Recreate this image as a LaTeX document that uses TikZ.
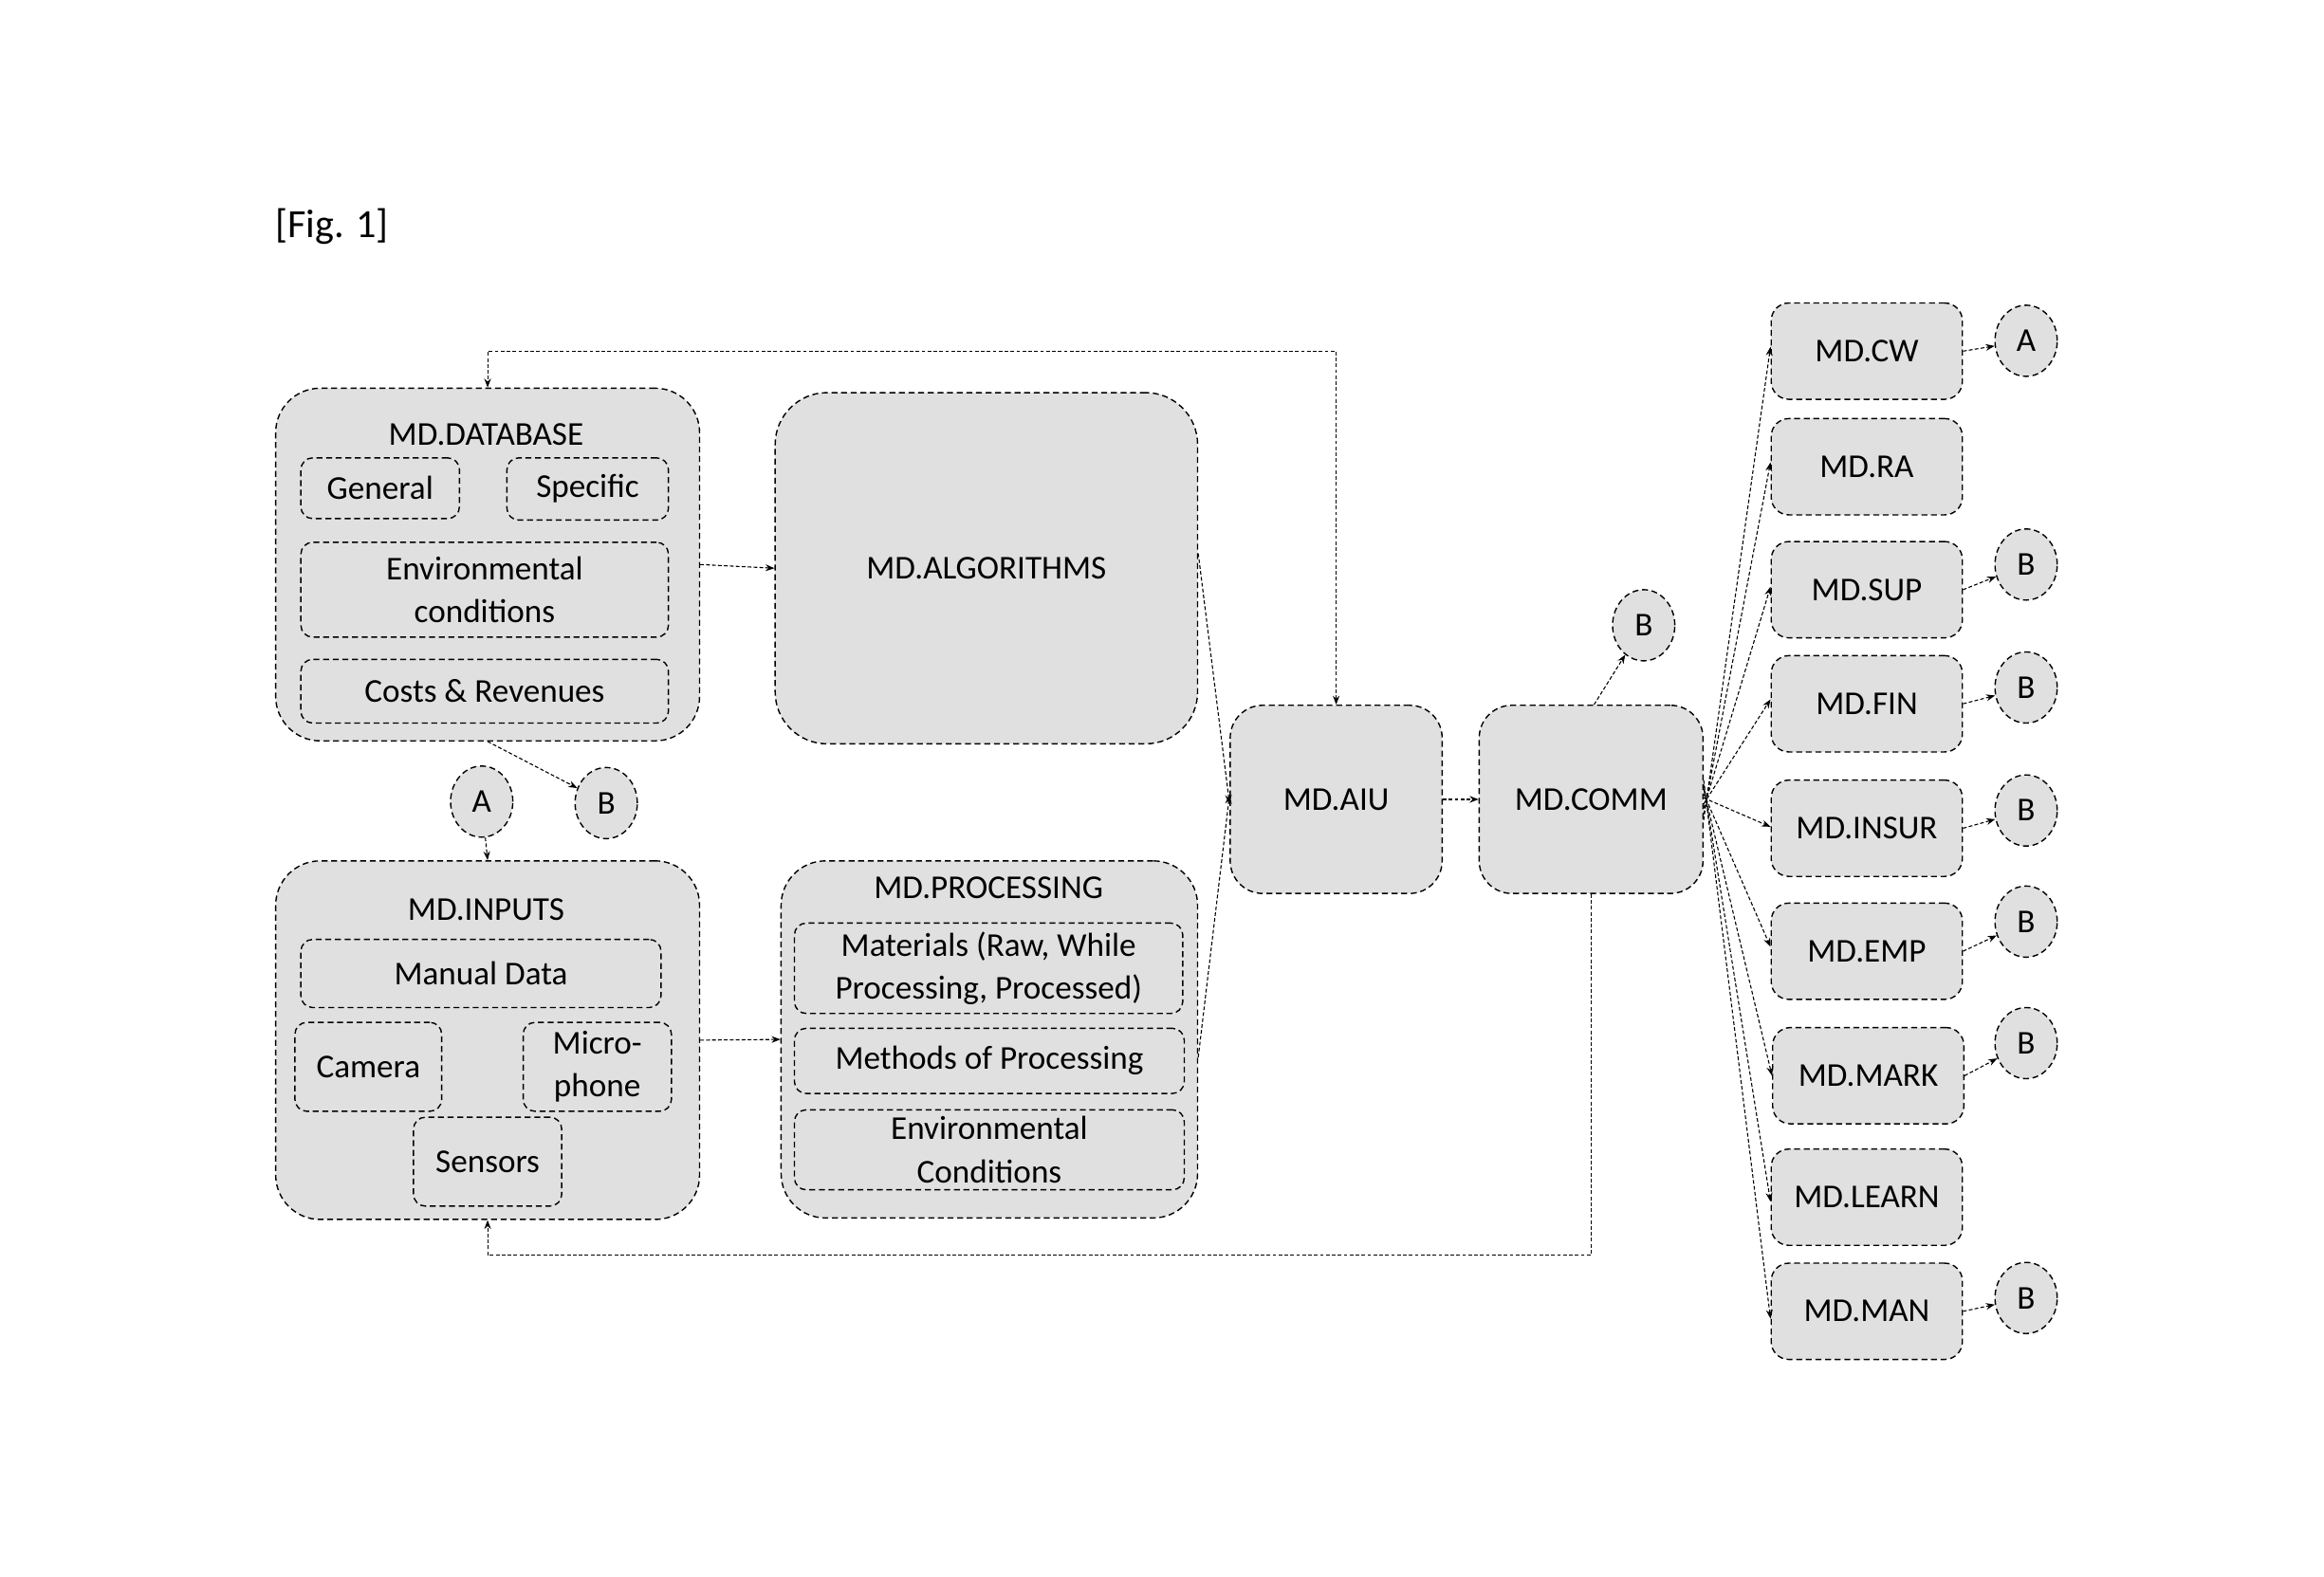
\documentclass[tikz,border=0pt]{standalone}
\usepackage{fontspec}
\setmainfont{Carlito}
\usetikzlibrary{arrows.meta,shapes.geometric}
\newcommand\mainfs{\fontsize{22.5}{29}\selectfont}
\tikzset{
  boxbase/.style={draw, dash pattern=on 4pt off 2.5pt, line width=0.9pt, fill=black!12, inner sep=0pt, font=\mainfs, align=center},
  bigbox/.style={boxbase, rounded corners=30pt},
  midbox/.style={boxbase, rounded corners=22pt},
  sbox/.style={boxbase, rounded corners=12pt, minimum width=129pt, minimum height=65pt},
  ibox/.style={boxbase, rounded corners=8pt},
  circ/.style={boxbase, ellipse, minimum width=42pt, minimum height=48pt},
  conn/.style={draw, dash pattern=on 2.5pt off 1.5pt, line width=0.7pt, -{Stealth[length=6pt,width=4.5pt]}},
  lbl/.style={font=\mainfs, align=center, inner sep=0pt}
}
\begin{document}
\begin{tikzpicture}[x=1pt,y=-1pt]
\useasboundingbox (0,0) rectangle (1568,1064);
\node[font=\fontsize{27}{32}\selectfont, inner sep=0pt] (fig) at (224,153) {[Fig. 1]};

% outer boxes
\node[bigbox, minimum width=286pt, minimum height=238pt] (db) at (329,381) {};
\node[lbl] (dbt) at (328,293) {MD.DATABASE};
\node[ibox, minimum width=107pt, minimum height=41pt] (gen) at (256.5,329.5) {General};
\node[ibox, minimum width=109pt, minimum height=42pt] (spec) at (396.5,330) {Specific};
\node[ibox, minimum width=248pt, minimum height=64pt] (env) at (327,398) {Environmental\\conditions};
\node[ibox, minimum width=248pt, minimum height=43pt] (cost) at (327,466.5) {Costs \& Revenues};

\node[bigbox, rounded corners=35pt, minimum width=285pt, minimum height=237pt] (alg) at (665.5,383.5) {MD.ALGORITHMS};

\node[bigbox, minimum width=286pt, minimum height=242pt] (inp) at (329,702) {};
\node[lbl] (inpt) at (328,614) {MD.INPUTS};
\node[ibox, minimum width=243pt, minimum height=46pt] (man) at (324.5,657) {Manual Data};
\node[ibox, minimum width=99pt, minimum height=60pt] (cam) at (248.5,720) {Camera};
\node[ibox, minimum width=100pt, minimum height=60pt] (mic) at (403,720) {Micro-\\phone};
\node[ibox, minimum width=100pt, minimum height=60pt] (sen) at (329,784) {Sensors};

\node[bigbox, minimum width=281pt, minimum height=241pt] (proc) at (667.5,701.5) {};
\node[lbl] (proct) at (667,599) {MD.PROCESSING};
\node[ibox, minimum width=262pt, minimum height=61pt] (mat) at (667,653.5) {Materials (Raw, While\\Processing, Processed)};
\node[ibox, minimum width=263pt, minimum height=44pt] (meth) at (667.5,716) {Methods of Processing};
\node[ibox, minimum width=263pt, minimum height=54pt] (env2) at (667.5,776) {Environmental\\Conditions};

\node[midbox, minimum width=143pt, minimum height=127pt] (aiu) at (901.5,539.5) {MD.AIU};
\node[midbox, minimum width=151pt, minimum height=127pt] (comm) at (1073.5,539.5) {MD.COMM};

% circles left
\node[circ] (la) at (325,541) {A};
\node[circ] (lb) at (409,542) {B};
\node[circ] (cb) at (1109,422) {B};

% right column
\node[sbox] (cw) at (1259.5,237) {MD.CW};
\node[sbox] (ra) at (1259.5,315) {MD.RA};
\node[sbox] (sup) at (1259.5,398) {MD.SUP};
\node[sbox] (fin) at (1259.5,475) {MD.FIN};
\node[sbox] (ins) at (1259.5,559) {MD.INSUR};
\node[sbox] (emp) at (1259.5,642) {MD.EMP};
\node[sbox] (mark) at (1260.5,726) {MD.MARK};
\node[sbox] (learn) at (1259.5,808) {MD.LEARN};
\node[sbox] (mman) at (1259.5,885) {MD.MAN};

\node[circ] (ra1) at (1367,230) {A};
\node[circ] (rb1) at (1367,381) {B};
\node[circ] (rb2) at (1367,464) {B};
\node[circ] (rb3) at (1367,547) {B};
\node[circ] (rb4) at (1367,622) {B};
\node[circ] (rb5) at (1367,704) {B};
\node[circ] (rb6) at (1367,876) {B};

% helper coordinates
\coordinate (top) at (0,237);
\coordinate (bot) at (0,847);

% connectors
\draw[conn, {Stealth[length=6pt,width=4.5pt]}-{Stealth[length=6pt,width=4.5pt]}] (aiu.north) -- (aiu.north |- top) -| (db.north);
\draw[conn] (db.east) -- (alg.west);
\draw[conn] (inp.east) -- (proc.west);
\draw[conn] ([yshift=10pt]alg.east) -- ([yshift=-3pt]aiu.west);
\draw[conn] ([yshift=-12pt]proc.east) -- ([yshift=3pt]aiu.west);
\draw[conn] (aiu.east) -- (comm.west);
\draw[conn] ([xshift=2pt]comm.north) -- (cb);
\draw[conn] (comm.south) -- (comm.south |- bot) -| (inp.south);
\draw[conn] (db.south) -- (lb);
\draw[conn] (la) -- (inp.north);

\draw[conn] ([yshift=-14pt]comm.east) -- ([yshift=3pt]cw.west);
\draw[conn] ([yshift=-10pt]comm.east) -- ([yshift=3pt]ra.west);
\draw[conn] ([yshift=-6pt]comm.east) -- ([yshift=2pt]sup.west);
\draw[conn] ([yshift=-3pt]comm.east) -- ([yshift=3pt]fin.west);
\draw[conn] ([yshift=1pt]comm.east) -- ([yshift=1pt]ins.west);
\draw[conn] ([yshift=4pt]comm.east) -- ([yshift=3pt]emp.west);
\draw[conn] ([yshift=7pt]comm.east) -- ([yshift=0pt]mark.west);
\draw[conn] ([yshift=10pt]comm.east) -- ([yshift=-3pt]learn.west);
\draw[conn] ([yshift=13pt]comm.east) -- ([yshift=-5pt]mman.west);

\draw[conn] (cw.east) -- (ra1);
\draw[conn] (sup.east) -- (rb1);
\draw[conn] (fin.east) -- (rb2);
\draw[conn] (ins.east) -- (rb3);
\draw[conn] (emp.east) -- (rb4);
\draw[conn] (mark.east) -- (rb5);
\draw[conn] (mman.east) -- (rb6);
\end{tikzpicture}
\end{document}
